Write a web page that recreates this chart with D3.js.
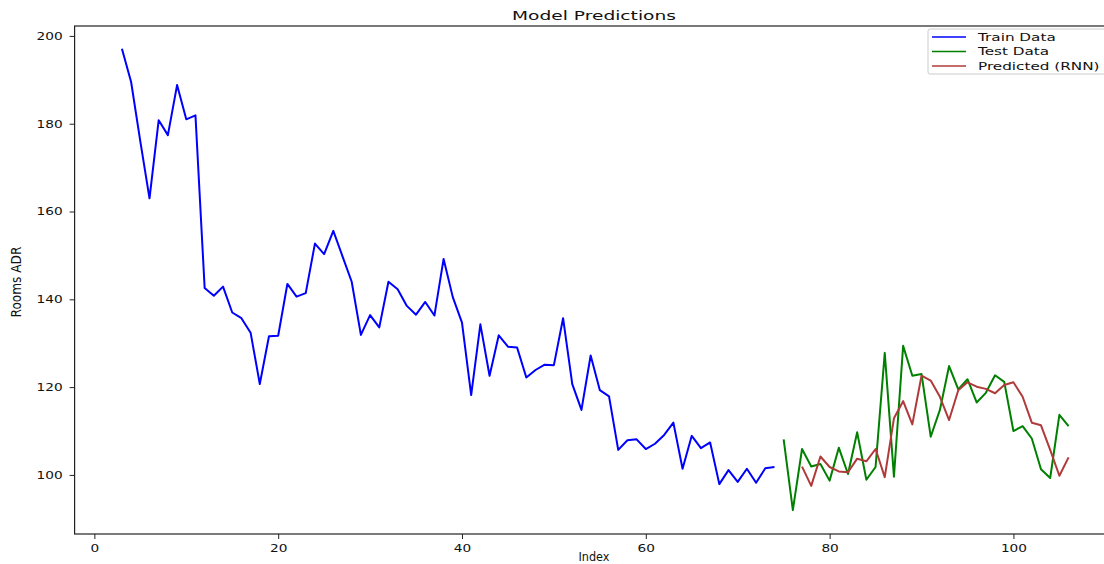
<!DOCTYPE html>
<html>
<head>
<meta charset="utf-8">
<script src="https://cdn.jsdelivr.net/npm/d3@7"></script>
<style>
  html, body { margin: 0; padding: 0; background: #fff; }
  svg { display: block; }
  text { font-family: "DejaVu Sans", Verdana, sans-serif; fill: #111; }
</style>
</head>
<body>
<svg id="chart" width="1104" height="564"></svg>
<script>
// Training series (indices 3..74)
const trainStart = 3;
const trainValues = [
  197.1, 189.5, 176.0, 163.0, 180.8, 177.4, 188.8, 181.0, 181.9, 142.6,
  140.8, 142.9, 137.0, 135.7, 132.4, 120.7, 131.6, 131.7, 143.5, 140.6,
  141.4, 152.7, 150.3, 155.6, 149.8, 144.0, 131.9, 136.4, 133.6, 144.0,
  142.3, 138.5, 136.5, 139.4, 136.3, 149.2, 140.5, 134.7, 118.2, 134.3,
  122.6, 131.8, 129.2, 129.0, 122.2, 123.9, 125.1, 125.0, 135.7, 120.7,
  114.8, 127.2, 119.3, 117.9, 105.7, 107.9, 108.1, 105.9, 107.1, 109.1,
  111.9, 101.4, 108.9, 106.1, 107.4, 97.9, 101.1, 98.4, 101.4, 98.2,
  101.5, 101.8
];

// Held-out series (indices 75..106)
const testStart = 75;
const testValues = [
  108.1, 92.0, 105.9, 101.9, 102.5, 98.7, 106.2, 100.2, 109.7, 98.9,
  101.8, 127.8, 99.6, 129.4, 122.6, 123.0, 108.7, 114.8, 124.8, 119.5,
  121.8, 116.5, 118.7, 122.7, 121.2, 110.0, 111.1, 108.3, 101.3, 99.3,
  113.7, 111.1
];

// RNN predictions (indices 77..106)
const predStart = 77;
const predValues = [
  101.9, 97.5, 104.2, 101.8, 100.8, 100.6, 103.7, 103.1, 105.9, 99.5,
  112.9, 116.8, 111.5, 122.6, 121.5, 117.8, 112.5, 119.3, 121.1, 120.1,
  119.6, 118.6, 120.5, 121.1, 117.8, 111.9, 111.3, 105.7, 99.8, 104.0
];

const xTicks = [0, 20, 40, 60, 80, 100];
const yTicks = [100, 120, 140, 160, 180, 200];
const seriesNames = ["Train Data", "Test Data", "Predicted (RNN)"];
const seriesColors = ["#0000ff", "#008000", "#b03a3a"];

const toPoints = (start, vals) => vals.map((v, i) => ({ x: start + i, y: v }));
const series = [
  toPoints(trainStart, trainValues),
  toPoints(testStart, testValues),
  toPoints(predStart, predValues)
];

const svg = d3.select("#chart");

const plot = { left: 74.6, right: 1115.9, top: 26, bottom: 534 };
const x = d3.scaleLinear().domain([-2.15, 111.15]).range([plot.left, plot.right]);
const y = d3.scaleLinear().domain([86.54, 202.26]).range([plot.bottom, plot.top]);

// Widen horizontal labels (the figure text is drawn wide)
function widen(sel, factor) {
  sel.each(function () {
    const n = this.getComputedTextLength();
    d3.select(this).attr("textLength", n * factor).attr("lengthAdjust", "spacingAndGlyphs");
  });
}

// Lines
const line = d3.line().x(d => x(d.x)).y(d => y(d.y));
svg.append("g")
  .selectAll("path")
  .data(series)
  .join("path")
  .attr("d", line)
  .attr("fill", "none")
  .attr("stroke", (d, i) => seriesColors[i])
  .attr("stroke-width", 2)
  .attr("stroke-linejoin", "round");

// Frame
svg.append("rect")
  .attr("x", plot.left).attr("y", plot.top)
  .attr("width", plot.right - plot.left).attr("height", plot.bottom - plot.top)
  .attr("fill", "none").attr("stroke", "#222").attr("stroke-width", 1.2);

// Axes
const xAxis = svg.append("g")
  .attr("transform", `translate(0,${plot.bottom})`)
  .call(d3.axisBottom(x).tickValues(xTicks).tickFormat(d3.format("d")).tickSize(5).tickSizeOuter(0));
xAxis.select(".domain").remove();
xAxis.selectAll("line").attr("stroke", "#222");
xAxis.selectAll("text").attr("font-size", 10.5).attr("dy", "0.95em").attr("fill", "#111");
widen(xAxis.selectAll("text"), 1.3);

const yAxis = svg.append("g")
  .attr("transform", `translate(${plot.left},0)`)
  .call(d3.axisLeft(y).tickValues(yTicks).tickFormat(d3.format("d")).tickSize(5).tickSizeOuter(0));
yAxis.select(".domain").remove();
yAxis.selectAll("line").attr("stroke", "#222");
yAxis.selectAll("text").attr("font-size", 10.5).attr("x", -12).attr("fill", "#111");
widen(yAxis.selectAll("text"), 1.3);

// Title and axis labels
const title = svg.append("text")
  .attr("x", 594).attr("y", 20).attr("text-anchor", "middle")
  .attr("font-size", 12).text("Model Predictions");
widen(title, 1.55);

svg.append("text")
  .attr("x", 594).attr("y", 561).attr("text-anchor", "middle")
  .attr("font-size", 12.5)
  .style("font-family", "'Liberation Sans Narrow', 'DejaVu Sans Condensed', 'Liberation Sans', sans-serif")
  .text("Index");

svg.append("text")
  .attr("transform", `translate(21,${(plot.top + plot.bottom) / 2 + 2}) rotate(-90)`)
  .attr("text-anchor", "middle")
  .attr("font-size", 13.5)
  .style("font-family", "'Liberation Sans Narrow', 'DejaVu Sans Condensed', 'Liberation Sans', sans-serif")
  .text("Rooms ADR");

// Legend
const legend = svg.append("g").attr("transform", "translate(928,29)");
legend.append("rect")
  .attr("x", 0).attr("y", 0).attr("width", 190).attr("height", 45)
  .attr("rx", 2).attr("fill", "#fff").attr("stroke", "#ccc").attr("stroke-width", 1);
const items = legend.selectAll("g.item")
  .data(seriesNames)
  .join("g")
  .attr("class", "item")
  .attr("transform", (d, i) => `translate(0,${8 + i * 14.5})`);
items.append("line")
  .attr("x1", 4).attr("x2", 38).attr("y1", 0).attr("y2", 0)
  .attr("stroke", (d, i) => seriesColors[i]).attr("stroke-width", 1.6);
const legendText = items.append("text")
  .attr("x", 50).attr("y", 0).attr("dy", "0.35em")
  .attr("font-size", 10.5).text(d => d);
widen(legendText, 1.45);
</script>
</body>
</html>
